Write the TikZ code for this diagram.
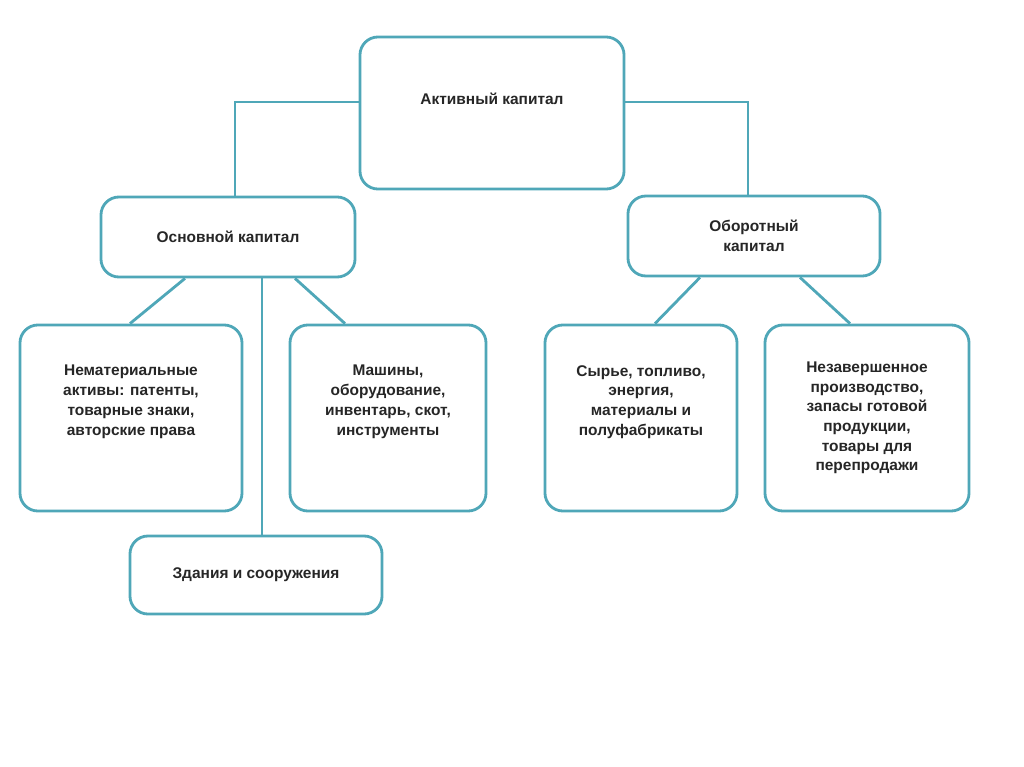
\documentclass[tikz,border=0pt]{standalone}
\usepackage{fontspec}
\setmainfont{Liberation Sans}
\definecolor{frame}{HTML}{4FA7B8}
\begin{document}
\begin{tikzpicture}[
    x=0.025cm, y=-0.025cm,
    box/.style={draw=frame, line width=2pt, rounded corners=0.45cm, fill=white, align=center,
        font=\fontsize{11}{14}\selectfont\bfseries, text=black!85},
    link/.style={draw=frame, line width=2pt}
]
    \useasboundingbox (0,0) rectangle (1024,767);

    % Top
    \node[box, minimum width=6.6cm, minimum height=3.8cm] (top) at (492,113) {Активный капитал\\[0.2cm]};

    % Second level
    \node[box, minimum width=6.35cm, minimum height=2cm] (fixed) at (228,237) {Основной капитал};
    \node[box, minimum width=6.3cm, minimum height=2cm] (current) at (754,236) {Оборотный\\капитал};

    % Third level
    \node[box, minimum width=5.55cm, minimum height=4.65cm] (intang) at (131,418) {Нематериальные\\активы: патенты,\\товарные знаки,\\авторские права\\[0.4cm]};
    \node[box, minimum width=4.9cm, minimum height=4.65cm] (mach) at (388,418) {Машины,\\оборудование,\\инвентарь, скот,\\инструменты\\[0.4cm]};
    \node[box, minimum width=6.3cm, minimum height=1.95cm] (build) at (256,575) {Здания и сооружения};
    \node[box, minimum width=4.8cm, minimum height=4.65cm] (raw) at (641,418) {Сырье, топливо,\\энергия,\\материалы и\\полуфабрикаты\\[0.4cm]};
    \node[box, minimum width=5.1cm, minimum height=4.65cm] (wip) at (867,418) {Незавершенное\\производство,\\запасы готовой\\продукции,\\товары для\\перепродажи};

    % Connectors
    \coordinate (tl) at (360,102);
    \coordinate (tr) at (625,102);
    \draw[link] (tl) -| (fixed.north -| 235,0);
    \draw[link] (tr) -| (current.north -| 748,0);
    \draw[link] (fixed.south -| 185,0) -- (intang.north -| 130,0);
    \draw[link] (fixed.south -| 262,0) -- (build.north -| 262,0);
    \draw[link] (fixed.south -| 295,0) -- (mach.north -| 345,0);
    \draw[link] (current.south -| 700,0) -- (raw.north -| 655,0);
    \draw[link] (current.south -| 800,0) -- (wip.north -| 850,0);
\end{tikzpicture}
\end{document}
